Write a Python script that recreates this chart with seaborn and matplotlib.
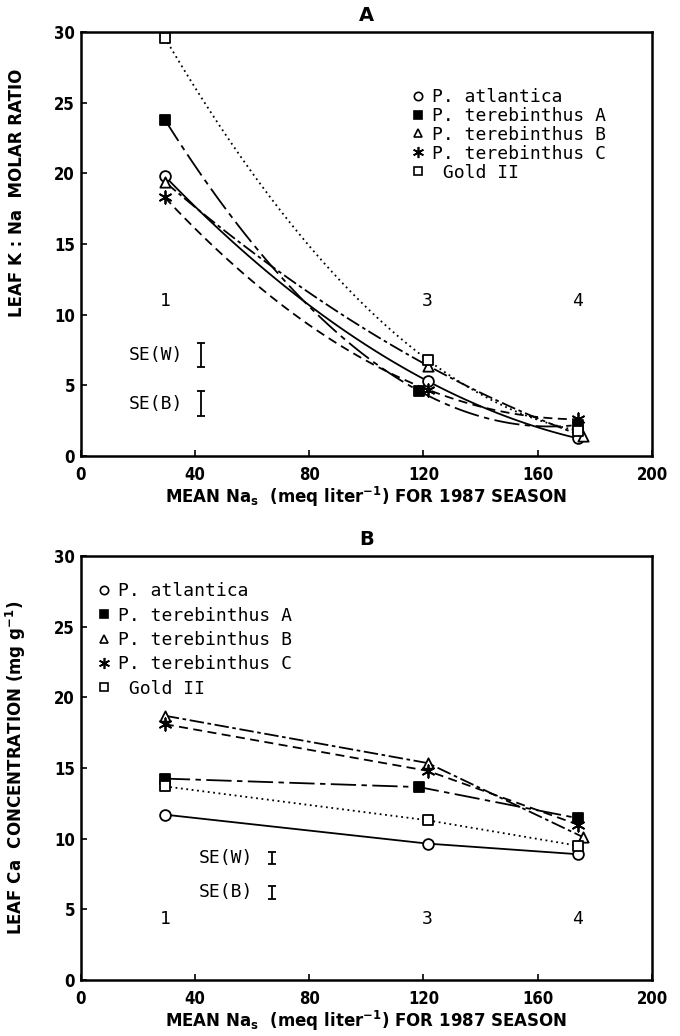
import numpy as np
import pandas as pd
import matplotlib
matplotlib.use('Agg')
import matplotlib.pyplot as plt
from matplotlib.lines import Line2D
import seaborn as sns

# ---------------- data ----------------
site_x = [29.5, 121.5, 174.0]
site_labels = ['1', '3', '4']
species = ['P. atlantica', 'P. terebinthus A', 'P. terebinthus B',
           'P. terebinthus C', ' Gold II']

# x positions per series (small plotting offsets as in the original)
x_atlantica = [29.5, 121.5, 174.0]
x_terA = [29.5, 118.5, 174.0]
x_terB = [29.5, 121.5, 176.0]
x_terC = [29.5, 121.5, 174.0]
x_gold = [29.5, 121.5, 174.0]

# Panel A: leaf K:Na molar ratio
kna_atlantica = [19.8, 5.3, 1.25]
kna_terA = [23.8, 4.6, 2.2]
kna_terB = [19.4, 6.4, 1.4]
kna_terC = [18.3, 4.7, 2.6]
kna_gold = [29.6, 6.8, 1.8]

# Panel B: leaf Ca concentration (mg g-1)
ca_atlantica = [11.7, 9.65, 8.9]
ca_terA = [14.25, 13.65, 11.45]
ca_terB = [18.7, 15.35, 10.1]
ca_terC = [18.1, 14.8, 11.0]
ca_gold = [13.7, 11.3, 9.5]

# standard errors shown as bars
se_labels = ['SE(W)', 'SE(B)']
seA_y = [7.15, 3.7]
seA_err = [0.87, 0.88]
seB_y = [8.65, 6.2]
seB_err = [0.42, 0.47]

x_ticks = [0, 40, 80, 120, 160, 200]
y_ticks = [0, 5, 10, 15, 20, 25, 30]

# ---------------- style ----------------
sns.set_theme(style='ticks', rc={
    'axes.edgecolor': 'black', 'axes.linewidth': 1.8,
    'xtick.direction': 'in', 'ytick.direction': 'in',
    'xtick.major.size': 4, 'ytick.major.size': 4,
    'xtick.major.width': 1.2, 'ytick.major.width': 1.2,
    'xtick.color': 'black', 'ytick.color': 'black',
    'text.color': 'black', 'axes.labelcolor': 'black',
    'axes.titlecolor': 'black',
})
plt.rcParams['font.family'] = ['DejaVu Sans']
plt.rcParams['mathtext.fontset'] = 'dejavusans'
plt.rcParams['mathtext.default'] = 'bf'

MONO = 'DejaVu Sans Mono'

markers = ['o', 's', '^', (6, 2, 0), 's']
faces = ['white', 'black', 'white', 'black', 'white']
styles = ['-', (0, (14, 3, 3, 3)), (0, (8, 2, 2, 2)), (0, (5, 3)), (0, (1, 2))]
msizes = [60, 45, 55, 80, 45]

fig = plt.figure(figsize=(6.8, 10.36), dpi=100)
W, H = 680, 1036
axA = fig.add_axes([80.5 / W, 1 - 456 / H, 571.5 / W, 424 / H])
axB = fig.add_axes([80.5 / W, 1 - 980 / H, 571.5 / W, 424 / H])


def draw_series(ax, xs, ys, i, curved):
    df = pd.DataFrame({'x': xs, 'y': ys})
    if curved:
        sns.regplot(data=df, x='x', y='y', order=2, ci=None, scatter=False, ax=ax,
                    line_kws=dict(color='black', lw=1.3, linestyle=styles[i]))
    else:
        sns.lineplot(data=df, x='x', y='y', ax=ax, color='black', lw=1.3,
                     linestyle=styles[i], sort=False, estimator=None)
    sns.scatterplot(data=df, x='x', y='y', ax=ax, marker=markers[i], s=msizes[i],
                    facecolor=faces[i], edgecolor='black', linewidth=1.3,
                    color='black', zorder=5, legend=False)


A_x = [x_atlantica, x_terA, x_terB, x_terC, x_gold]
A_y = [kna_atlantica, kna_terA, kna_terB, kna_terC, kna_gold]
B_y = [ca_atlantica, ca_terA, ca_terB, ca_terC, ca_gold]

for i in range(5):
    draw_series(axA, A_x[i], A_y[i], i, True)
    draw_series(axB, A_x[i], B_y[i], i, False)


def finish(ax, title, ylabel, ylabcoord):
    ax.set_xlim(0, 200)
    ax.set_ylim(0, 30)
    ax.set_xticks(x_ticks)
    ax.set_yticks(y_ticks)
    ax.set_xticklabels([str(t) for t in x_ticks], fontweight='bold', fontsize=12,
                       fontstretch='condensed')
    ax.set_yticklabels([str(t) for t in y_ticks], fontweight='bold', fontsize=12,
                       fontstretch='condensed')
    ax.tick_params(axis='x', pad=7)
    ax.tick_params(axis='y', pad=4)
    ax.set_title(title, fontweight='bold', fontsize=14, pad=8)
    ax.set_xlabel(r'MEAN Na$_\mathbf{s}$  (meq liter$^{\mathbf{-1}}$) FOR 1987 SEASON',
                  fontweight='bold', fontsize=12, labelpad=1)
    ax.set_ylabel(ylabel, fontweight='bold', fontsize=12)
    ax.yaxis.set_label_coords(ylabcoord[0], ylabcoord[1])
    for s in ax.spines.values():
        s.set_visible(True)


finish(axA, 'A', 'LEAF K : Na  MOLAR RATIO', (-0.095, 0.62))
finish(axB, 'B', r'LEAF Ca  CONCENTRATION (mg g$^{\mathbf{-1}}$)', (-0.092, 0.5))

# site numbers
for x, l in zip(site_x, site_labels):
    axA.text(x, 11.0, l, ha='center', va='center', fontsize=13, family=MONO)
    axB.text(x, 4.35, l, ha='center', va='center', fontsize=13, family=MONO)

# SE bars
for lab, y, e in zip(se_labels, seA_y, seA_err):
    axA.text(36, y, lab, ha='right', va='center', fontsize=13, family=MONO)
    axA.errorbar([42], [y], yerr=[e], color='black', capsize=3, lw=1.3, capthick=1.3)
for lab, y, e in zip(se_labels, seB_y, seB_err):
    axB.text(60.5, y, lab, ha='right', va='center', fontsize=13, family=MONO)
    axB.errorbar([67], [y], yerr=[e], color='black', capsize=3, lw=1.3, capthick=1.3)

# legends
handles = [Line2D([], [], ls='none', marker=markers[i], mfc=faces[i], mec='black',
                  color='black', ms=6 if i != 3 else 8, mew=1.2) for i in range(5)]
axA.legend(handles, species, loc='upper left', bbox_to_anchor=(0.565, 0.885),
           frameon=False, handlelength=0.8, handletextpad=0.4, labelspacing=0.05,
           prop={'family': MONO, 'size': 13}, borderaxespad=0)
axB.legend(handles, species, loc='upper left', bbox_to_anchor=(0.015, 0.955),
           frameon=False, handlelength=0.8, handletextpad=0.4, labelspacing=0.35,
           prop={'family': MONO, 'size': 13}, borderaxespad=0)

fig.savefig('out.png', dpi=100)
